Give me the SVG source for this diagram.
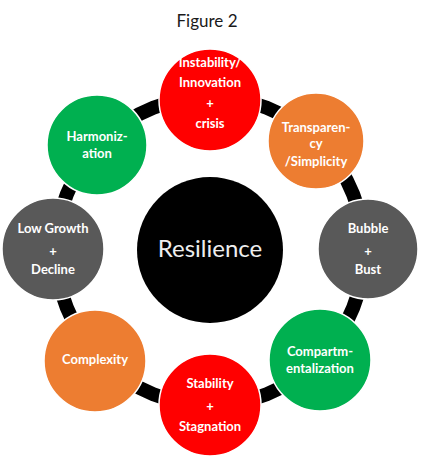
<svg xmlns="http://www.w3.org/2000/svg" width="422" height="462" viewBox="0 0 422 462">
<style>
.n{stroke:#ffffff;stroke-width:1.5}
.red{fill:#ff0000}.org{fill:#ed7d31}.grn{fill:#00b050}.gry{fill:#595959}
.t{font-family:Lato,"Open Sans",sans-serif;font-weight:bold;font-size:13px;fill:#ffffff;text-anchor:middle}
</style>
<rect width="422" height="462" fill="#ffffff"/>
<text x="207" y="27" font-family="Lato,'Open Sans',sans-serif" font-size="17" fill="#1a1a1a" text-anchor="middle">Figure 2</text>
<g id="connectors">
<circle cx="210" cy="251" r="154" fill="none" stroke="#000000" stroke-width="14"/>
</g>
<g id="center">
<circle cx="210" cy="250" r="73" fill="#000000"/>
<text x="210" y="257" font-family="Lato,'Open Sans',sans-serif" font-size="24" fill="#eeeeee" text-anchor="middle">Resilience</text>
</g>
<g id="n1">
<circle class="n red" cx="210" cy="100" r="51"/>
<text class="t" x="210" y="67">Instability/</text>
<text class="t" x="210" y="87">Innovation</text>
<text class="t" x="210" y="108">+</text>
<text class="t" x="210" y="128">crisis</text>
</g>
<g id="n2">
<circle class="n org" cx="316" cy="141" r="48"/>
<text class="t" x="316" y="132">Transparen-</text>
<text class="t" x="316" y="148">cy</text>
<text class="t" x="316" y="166">/Simplicity</text>
</g>
<g id="n3">
<circle class="n gry" cx="368" cy="249" r="50"/>
<text class="t" x="368" y="233">Bubble</text>
<text class="t" x="368" y="256">+</text>
<text class="t" x="368" y="274">Bust</text>
</g>
<g id="n4">
<circle class="n grn" cx="320" cy="360" r="51"/>
<text class="t" x="320" y="356">Compartm-</text>
<text class="t" x="320" y="373">entalization</text>
</g>
<g id="n5">
<circle class="n red" cx="210" cy="405" r="51"/>
<text class="t" x="210" y="388">Stability</text>
<text class="t" x="210" y="411">+</text>
<text class="t" x="210" y="431">Stagnation</text>
</g>
<g id="n6">
<circle class="n org" cx="95" cy="361" r="51"/>
<text class="t" x="95" y="364">Complexity</text>
</g>
<g id="n7">
<circle class="n gry" cx="53" cy="249" r="51"/>
<text class="t" x="53" y="233">Low Growth</text>
<text class="t" x="53" y="256">+</text>
<text class="t" x="53" y="274">Decline</text>
</g>
<g id="n8">
<circle class="n grn" cx="97" cy="145" r="50"/>
<text class="t" x="97" y="141">Harmoniz-</text>
<text class="t" x="97" y="158">ation</text>
</g>
</svg>
